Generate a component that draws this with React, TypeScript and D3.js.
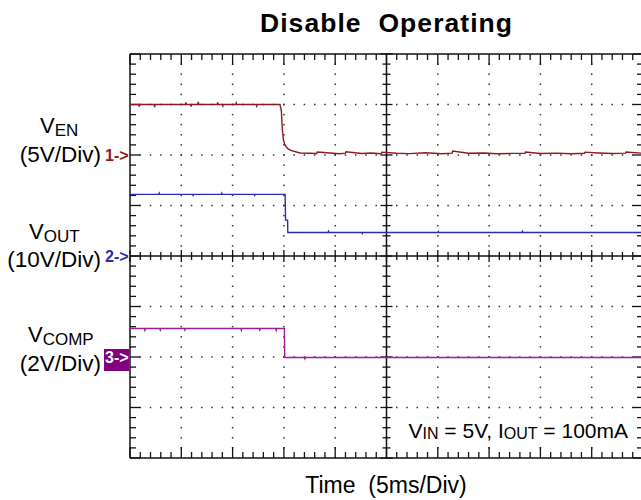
import * as d3 from 'd3';

const W = 641;
const H = 500;

// screen geometry of the scope grid
const GRID = { left: 130, right: 643, top: 54, bottom: 458 };
const X_DIVS = 10;
const Y_DIVS = 8;
const MINOR = 5;
const MS_PER_DIV = 5;

// channel 1: V_EN (5V/div), ground 2 divs above centre
const VEN_MS = [0, 0.85, 0.9, 0.95, 2.35, 2.4, 2.45, 5.4, 5.45, 5.5, 5.9, 5.95, 6.0, 6.6, 6.65, 6.7, 8.5, 8.55, 8.6, 9.0, 9.05, 9.1, 10.3, 10.35, 10.4, 12.3, 12.35, 12.4, 14.62, 14.75, 14.85, 14.95, 15.1, 15.4, 15.8, 16.6, 17.5, 18.2, 18.25, 19.5, 20.4, 21.0, 21.05, 22.6, 23.5, 24.5, 24.55, 26.0, 27.2, 28.8, 30.4, 31.4, 31.45, 33.0, 34.5, 35.8, 37.2, 38.5, 38.55, 40.0, 41.6, 43.0, 44.3, 44.35, 45.7, 47.0, 48.3, 48.35, 50];
const VEN_V = [5.0, 5.0, 4.8, 5.0, 5.0, 4.75, 5.0, 5.0, 5.2, 5.0, 5.0, 4.8, 5.0, 5.0, 5.25, 5.0, 5.0, 5.2, 5.0, 5.0, 4.85, 5.0, 5.0, 5.15, 5.0, 5.0, 4.85, 5.0, 5.0, 4.4, 2.5, 1.5, 1.0, 0.6, 0.4, 0.2, 0.18, 0.15, 0.3, 0.2, 0.12, 0.18, 0.32, 0.15, 0.2, 0.12, 0.28, 0.18, 0.14, 0.22, 0.12, 0.18, 0.4, 0.17, 0.2, 0.12, 0.16, 0.18, 0.3, 0.15, 0.19, 0.12, 0.17, 0.28, 0.2, 0.15, 0.18, 0.3, 0.17];

// channel 2: V_OUT (10V/div), ground at centre
const VOUT_MS = [0, 2.8, 2.85, 2.9, 6.1, 6.15, 6.2, 8.9, 8.95, 9.0, 12.1, 12.15, 12.2, 15.12, 15.16, 15.36, 15.38, 19.3, 19.35, 19.4, 22.6, 22.65, 22.7, 30.0, 30.05, 30.1, 38.2, 38.25, 38.3, 50];
const VOUT_V = [12.2, 12.2, 12.45, 12.2, 12.2, 12.0, 12.2, 12.2, 12.45, 12.2, 12.2, 12.0, 12.2, 12.2, 7.1, 7.1, 4.65, 4.65, 4.9, 4.65, 4.65, 4.45, 4.65, 4.65, 4.85, 4.65, 4.65, 4.9, 4.65, 4.65];

// channel 3: V_COMP (2V/div), ground 2 divs below centre
const VCOMP_MS = [0, 1.4, 1.45, 1.5, 2.9, 2.95, 3.0, 5.3, 5.35, 5.4, 10.8, 10.85, 10.9, 12.6, 12.65, 12.7, 14.2, 14.25, 14.3, 15.05, 15.08, 17.0, 17.05, 17.1, 50];
const VCOMP_V = [1.13, 1.13, 1.06, 1.13, 1.13, 1.07, 1.13, 1.13, 1.07, 1.13, 1.13, 1.06, 1.13, 1.13, 1.07, 1.13, 1.13, 1.06, 1.13, 1.13, -0.02, -0.02, -0.07, -0.02, -0.02];

const CHANNELS = [
  { id: '1', main: 'V', sub: 'EN', scaleLabel: '(5V/Div)', voltsPerDiv: 5, groundDiv: 2, color: '#8e1b1b', ms: VEN_MS, v: VEN_V },
  { id: '2', main: 'V', sub: 'OUT', scaleLabel: '(10V/Div)', voltsPerDiv: 10, groundDiv: 0, color: '#2b2bb3', ms: VOUT_MS, v: VOUT_V },
  { id: '3', main: 'V', sub: 'COMP', scaleLabel: '(2V/Div)', voltsPerDiv: 2, groundDiv: -2, color: '#9a1f9a', ms: VCOMP_MS, v: VCOMP_V },
];

const FONT = '"Liberation Sans", Arial, sans-serif';

export default function App() {
  const xScale = d3.scaleLinear().domain([0, X_DIVS * MS_PER_DIV]).range([GRID.left, GRID.right]);
  const yScale = d3.scaleLinear().domain([-Y_DIVS / 2, Y_DIVS / 2]).range([GRID.bottom, GRID.top]);

  const xMinor = d3.range(0, X_DIVS * MINOR + 1).map((i) => xScale((i / MINOR) * MS_PER_DIV));
  const yMinor = d3.range(0, Y_DIVS * MINOR + 1).map((i) => yScale(-Y_DIVS / 2 + i / MINOR));
  const cx = xScale((X_DIVS / 2) * MS_PER_DIV);
  const cy = yScale(0);

  // dotted grid
  const dots: JSX.Element[] = [];
  d3.range(1, X_DIVS).forEach((d) => {
    if (d === X_DIVS / 2) return;
    const x = xScale(d * MS_PER_DIV);
    yMinor.slice(1, -1).forEach((y, k) => dots.push(<rect key={`v${d}-${k}`} x={x - 0.75} y={y - 0.75} width={1.5} height={1.5} fill="#333" />));
  });
  d3.range(1, Y_DIVS).forEach((d) => {
    if (d === Y_DIVS / 2) return;
    const y = yScale(-Y_DIVS / 2 + d);
    xMinor.slice(1, -1).forEach((x, k) => dots.push(<rect key={`h${d}-${k}`} x={x - 0.75} y={y - 0.75} width={1.5} height={1.5} fill="#333" />));
  });

  // ticks on the frame and the centre cross
  const ticks: JSX.Element[] = [];
  xMinor.forEach((x, i) => {
    const major = i % MINOR === 0;
    const len = major ? 11 : 6;
    ticks.push(<line key={`tt${i}`} x1={x} x2={x} y1={GRID.top} y2={GRID.top + len} />);
    ticks.push(<line key={`tb${i}`} x1={x} x2={x} y1={GRID.bottom} y2={GRID.bottom - len} />);
    const c = major ? 6 : 4;
    ticks.push(<line key={`tc${i}`} x1={x} x2={x} y1={cy - c} y2={cy + c} />);
  });
  yMinor.forEach((y, i) => {
    const major = i % MINOR === 0;
    const len = major ? 10 : 6;
    ticks.push(<line key={`tl${i}`} x1={GRID.left} x2={GRID.left + len} y1={y} y2={y} />);
    ticks.push(<line key={`tr${i}`} x1={GRID.right} x2={GRID.right - len} y1={y} y2={y} />);
    const c = major ? 6 : 4;
    ticks.push(<line key={`tm${i}`} x1={cx - c} x2={cx + c} y1={y} y2={y} />);
  });

  const traceLine = (ch: (typeof CHANNELS)[number]) =>
    d3
      .line<number>()
      .x((_, i) => xScale(ch.ms[i]))
      .y((_, i) => yScale(ch.groundDiv + ch.v[i] / ch.voltsPerDiv))(ch.v) ?? '';

  // label baselines
  const nameBase = [133, 239, 342];
  const nameX = [40, 29, 28];
  const scaleBase = [162, 267, 371];

  return (
    <svg width={W} height={H} style={{ display: 'block', position: 'absolute', left: 0, top: 0 }} fontFamily={FONT}>
      <rect width={W} height={H} fill="#fff" />
      <text x={386} y={32} textAnchor="middle" fontSize={26.5} fontWeight="bold" textLength={252} lengthAdjust="spacing" style={{ whiteSpace: 'pre' }}>
        Disable  Operating
      </text>

      {dots}
      {/* the condition note sits on a blank patch of the screen */}
      <rect x={406} y={421} width={226} height={22} fill="#fff" />
      <g stroke="#111" strokeWidth={1.3}>
        {ticks}
        <line x1={GRID.left} x2={GRID.right} y1={GRID.top} y2={GRID.top} strokeWidth={1.5} />
        <line x1={GRID.left} x2={GRID.right} y1={GRID.bottom} y2={GRID.bottom} strokeWidth={1.5} />
        <line x1={GRID.left} x2={GRID.left} y1={GRID.top} y2={GRID.bottom} strokeWidth={1.5} />
        <line x1={cx} x2={cx} y1={GRID.top} y2={GRID.bottom} strokeWidth={1.5} />
        <line x1={GRID.left} x2={GRID.right} y1={cy} y2={cy} strokeWidth={1.5} />
      </g>

      {CHANNELS.map((ch) => (
        <path key={ch.id} d={traceLine(ch)} fill="none" stroke={ch.color} strokeWidth={1.4} />
      ))}

      {CHANNELS.map((ch, i) => {
        const gy = yScale(ch.groundDiv);
        return (
          <g key={`lab${ch.id}`}>
            <text x={nameX[i]} y={nameBase[i]} fontSize={22}>
              {ch.main}
              <tspan fontSize={17} dy={3}>{ch.sub}</tspan>
            </text>
            <text x={101} y={scaleBase[i]} fontSize={22.5} textAnchor="end">
              {ch.scaleLabel}
            </text>
            {ch.id === '3' ? (
              <g>
                <rect x={104} y={gy - 8} width={25} height={22} fill="#800080" />
                <text x={105} y={gy + 5.5} fontSize={16} fontWeight="bold" fill="#fff">
                  {`${ch.id}->`}
                </text>
              </g>
            ) : (
              <text x={105} y={gy + 5.5} fontSize={16} fontWeight="bold" fill={ch.color}>
                {`${ch.id}->`}
              </text>
            )}
          </g>
        );
      })}

      <text x={628} y={438} fontSize={21} textAnchor="end" style={{ whiteSpace: 'pre' }}>
        V<tspan fontSize={16} dy={1}>IN</tspan>
        <tspan dy={-1}> = 5V, I</tspan>
        <tspan fontSize={16} dy={1}>OUT</tspan>
        <tspan dy={-1}> = 100mA</tspan>
      </text>

      <text x={386} y={493} fontSize={23} textAnchor="middle" style={{ whiteSpace: 'pre' }}>
        Time  (5ms/Div)
      </text>
    </svg>
  );
}
